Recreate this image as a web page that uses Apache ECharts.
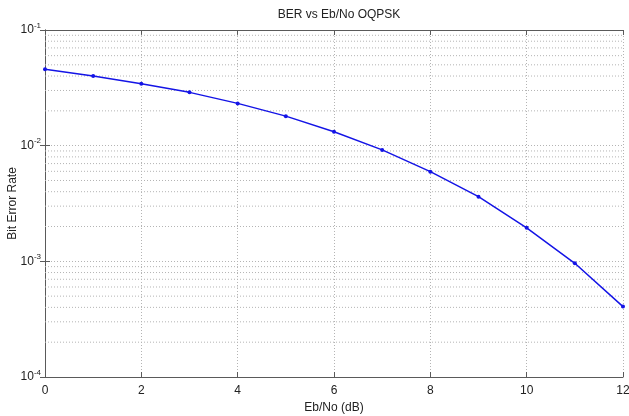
<!DOCTYPE html>
<html>
<head>
<meta charset="utf-8">
<script src="https://cdn.jsdelivr.net/npm/echarts@6/dist/echarts.min.js"></script>
<style>
  html, body { margin: 0; padding: 0; background: #fff; }
  #chart { width: 629px; height: 416px; }
</style>
</head>
<body>
<div id="chart"></div>
<script>
// 数据
var ebno = [0, 1, 2, 3, 4, 5, 6, 7, 8, 9, 10, 11, 12];
var ber = [0.0457, 0.0401, 0.0343, 0.0289, 0.0232, 0.0180, 0.0132, 0.00919, 0.00596, 0.00362, 0.00195, 0.000962, 0.000406];
var decades = [-4, -3, -2];
var minorSteps = [2, 3, 4, 5, 6, 7, 8, 9];

// 对数轴次网格线（每条用 null 断开）
var minorLines = [];
decades.forEach(function (d) {
  minorSteps.forEach(function (k) {
    var v = k * Math.pow(10, d);
    minorLines.push([0, v], [12, v], null);
  });
});

var axisColor = '#5a5a5a';
var gridStyle = { color: '#b4b4b4', type: [1, 2], width: 1 };
var font = 'Liberation Sans, Arial, sans-serif';

function powLabel(v) {
  var e = Math.round(Math.log(v) / Math.LN10);
  return '{b|10}{s|' + e + '}';
}
var powRich = {
  b: { fontSize: 12, color: '#222', fontFamily: font },
  s: { fontSize: 8, color: '#222', fontFamily: font, padding: [0, 0, 9, 0] }
};

var myChart = echarts.init(document.getElementById('chart'));
var option = {
  animation: false,
  backgroundColor: '#fff',
  title: {
    text: 'BER vs Eb/No OQPSK',
    left: 334,
    textAlign: 'center',
    top: 4,
    textStyle: { fontSize: 12, fontWeight: 'normal', color: '#222', fontFamily: font }
  },
  grid: { left: 45, right: 6, top: 30, bottom: 39, containLabel: false, outerBoundsMode: 'none' },
  xAxis: [{
    type: 'value',
    min: 0, max: 12, interval: 2,
    name: 'Eb/No (dB)',
    nameLocation: 'middle',
    nameGap: 25,
    nameMoveOverlap: false,
    nameTextStyle: { fontSize: 12, color: '#222', fontFamily: font },
    axisLine: { lineStyle: { color: axisColor } },
    axisTick: { inside: true, length: 5, lineStyle: { color: axisColor } },
    axisLabel: { fontSize: 12, color: '#222', fontFamily: font, margin: 8 },
    splitLine: { show: true, lineStyle: gridStyle }
  }, {
    type: 'value',
    position: 'top',
    min: 0, max: 12, interval: 2,
    axisLine: { lineStyle: { color: axisColor } },
    axisTick: { inside: true, length: 5, lineStyle: { color: axisColor } },
    axisLabel: { show: false },
    splitLine: { show: false }
  }],
  yAxis: [{
    type: 'log',
    logBase: 10,
    min: 1e-4, max: 1e-1,
    name: 'Bit Error Rate',
    nameLocation: 'middle',
    nameGap: 26,
    nameMoveOverlap: false,
    nameTextStyle: { fontSize: 12, color: '#222', fontFamily: font },
    axisLine: { show: true, lineStyle: { color: axisColor } },
    axisTick: { inside: true, length: 5, lineStyle: { color: axisColor } },
    axisLabel: { formatter: powLabel, rich: powRich, margin: 4 },
    splitLine: { show: true, lineStyle: gridStyle }
  }, {
    type: 'log',
    logBase: 10,
    position: 'right',
    min: 1e-4, max: 1e-1,
    axisLine: { show: true, lineStyle: { color: axisColor } },
    axisTick: { inside: true, length: 5, lineStyle: { color: axisColor } },
    axisLabel: { show: false },
    splitLine: { show: false }
  }],
  series: [{
    name: 'minor',
    type: 'line',
    data: minorLines,
    symbol: 'none',
    silent: true,
    connectNulls: false,
    lineStyle: gridStyle,
    z: 1
  }, {
    name: 'OQPSK',
    type: 'line',
    data: ebno.map(function (x, i) { return [x, ber[i]]; }),
    symbol: 'circle',
    symbolSize: 4,
    lineStyle: { color: '#1414e6', width: 1.5 },
    itemStyle: { color: '#1414e6' },
    z: 5
  }]
};
myChart.setOption(option);
</script>
</body>
</html>
